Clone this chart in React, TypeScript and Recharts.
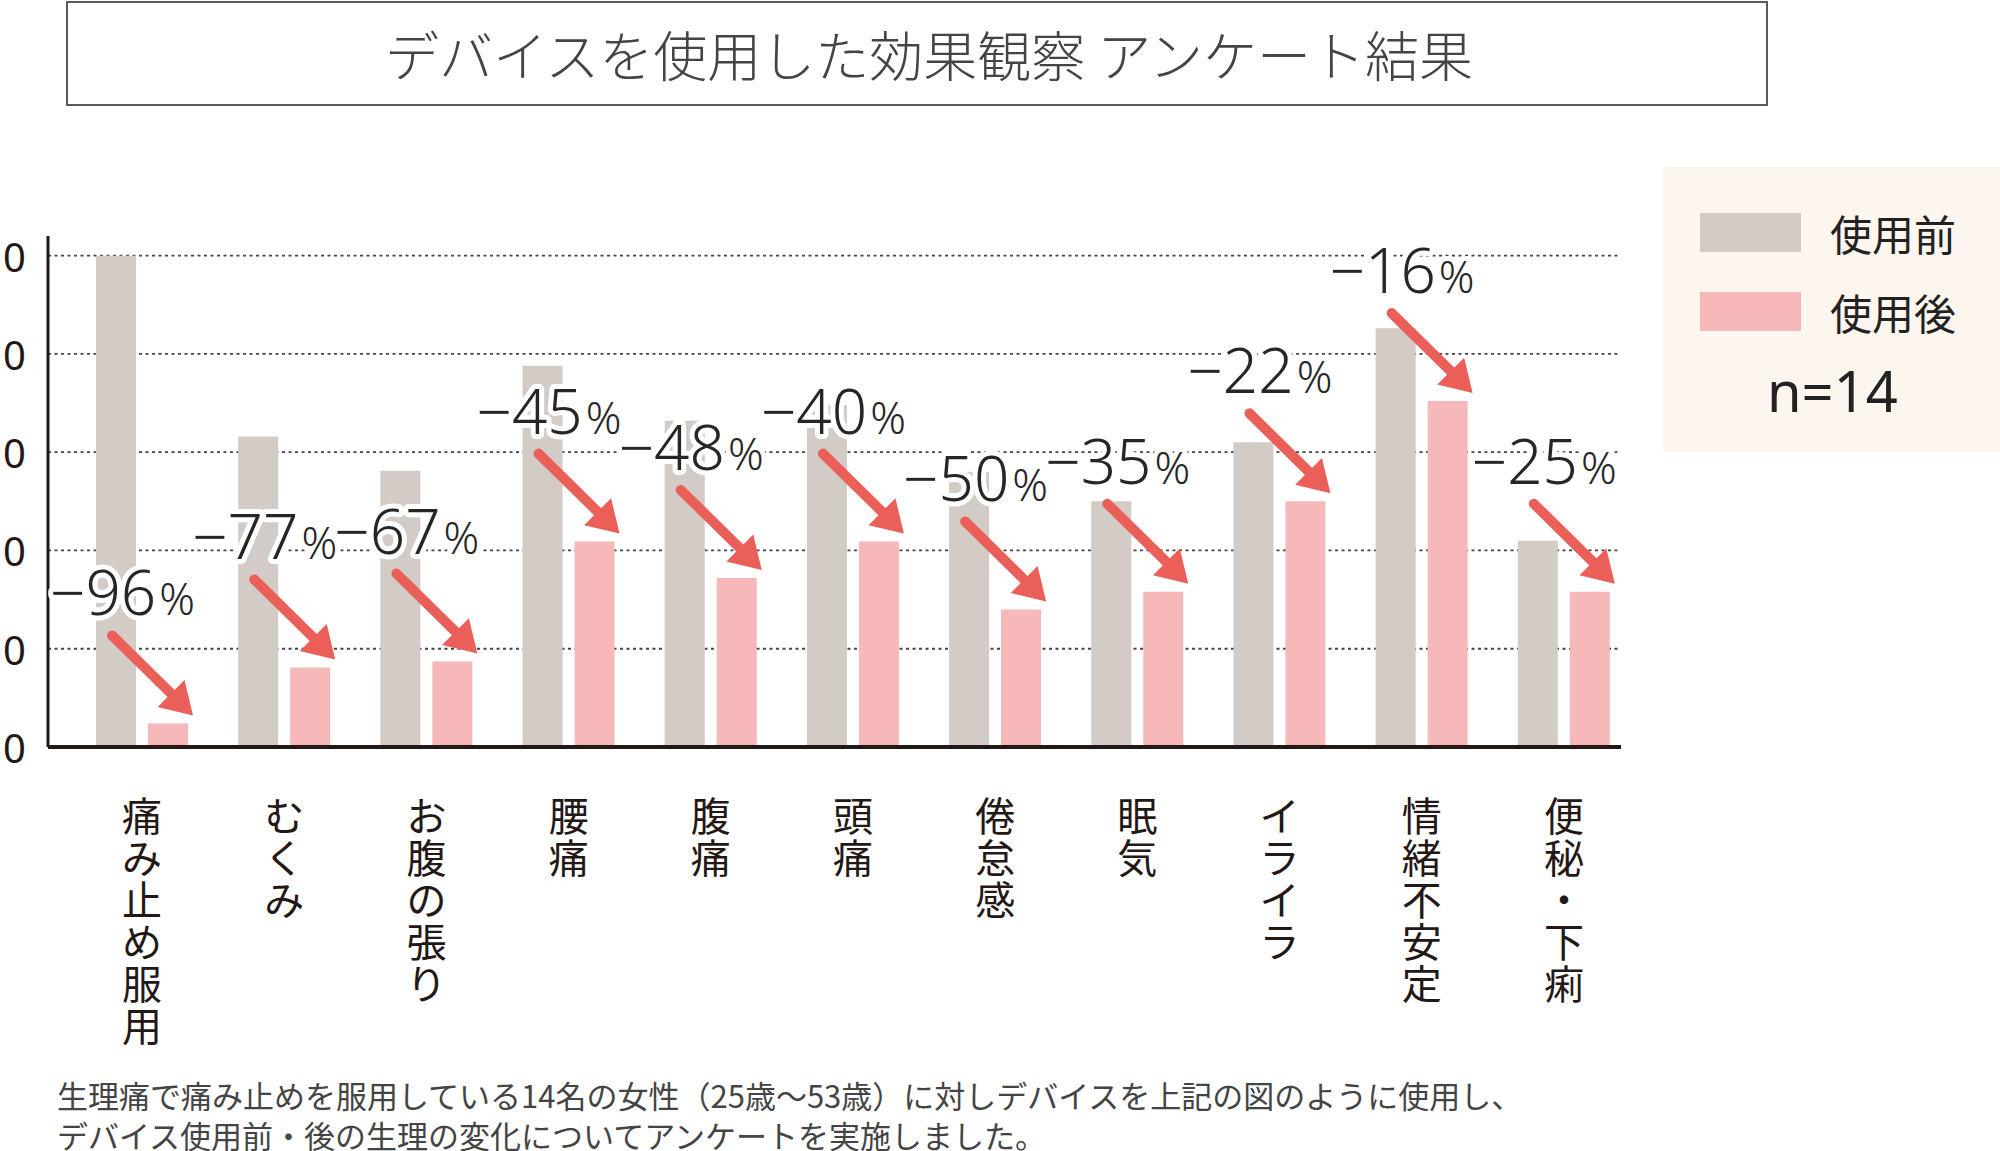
import React from 'react';
import { BarChart, Bar, XAxis, YAxis, CartesianGrid, LabelList, Legend } from 'recharts';

const categories = ['痛み止め服用', 'むくみ', 'お腹の張り', '腰痛', '腹痛', '頭痛', '倦怠感', '眠気', 'イライラ', '情緒不安定', '便秘・下痢'];
const beforeValues = [50, 31.6, 28.1, 38.8, 33.2, 34.8, 28, 25, 31, 42.6, 21];
const afterValues = [2.4, 8.1, 8.7, 20.9, 17.2, 20.9, 14, 15.8, 25, 35.2, 15.8];
const changeLabels = [-96, -77, -67, -45, -48, -40, -50, -35, -22, -16, -25];
const yTicks = [0, 10, 20, 30, 40, 50];
const seriesNames = ['使用前', '使用後'];
const sampleLabel = 'n=14';
const titleText = 'デバイスを使用した効果観察 アンケート結果';
const noteLines = [
  '生理痛で痛み止めを服用している14名の女性（25歳〜53歳）に対しデバイスを上記の図のように使用し、',
  'デバイス使用前・後の生理の変化についてアンケートを実施しました。',
];

const data = categories.map((c, i) => ({
  category: c,
  before: beforeValues[i],
  after: afterValues[i],
  change: changeLabels[i],
}));

const JP = "'Noto Sans CJK JP', 'Noto Sans', sans-serif";
const NUM = "'Noto Sans', 'Noto Sans CJK JP', sans-serif";
const GRAY = '#D3CBC5';
const PINK = '#F6B8B8';
const ARROW = '#EA5F58';
const DARK = '#231815';
const PLOT_TOP = 236;

const CategoryTick = (props: any) => {
  const { x, y, payload } = props;
  const chars = Array.from(String(payload.value));
  return (
    <text x={x} y={y + 84} textAnchor="middle" fontSize={40} fill={DARK} fontFamily={JP}>
      {chars.map((c, i) => (
        <tspan key={i} x={x} dy={i === 0 ? 0 : 42}>
          {c}
        </tspan>
      ))}
    </text>
  );
};

const ValueTick = (props: any) => {
  const { x, y, payload } = props;
  return (
    <text x={x - 17} y={y + 16} textAnchor="end" fontSize={40} fill={DARK} letterSpacing={5} fontFamily={NUM}>
      {payload.value}
    </text>
  );
};

const renderGridLine = (p: any) => {
  if (Math.abs(p.y1 - PLOT_TOP) < 2) return <g key={p.key} />;
  return (
    <line
      key={p.key}
      x1={p.x1}
      y1={p.y1}
      x2={p.x2}
      y2={p.y2}
      stroke="#444"
      strokeWidth={1.8}
      strokeDasharray="3 3.5"
    />
  );
};

const renderChange = (props: any) => {
  const vb = props.viewBox ?? props;
  const { x, y, width } = vb;
  const v = props.value;
  if (x == null || y == null) return null;
  const tipX = x + width + 5;
  const tipY = y - 8;
  const tailX = tipX - 81;
  const tailY = tipY - 80;
  const u = Math.SQRT1_2;
  const L = 31;
  const H = 19;
  const bx = tipX - L * u;
  const by = tipY - L * u;
  const nx = -u;
  const ny = u;
  const p1 = `${bx + H * nx},${by + H * ny}`;
  const p2 = `${bx - H * nx},${by - H * ny}`;
  return (
    <g>
      <line x1={tailX} y1={tailY} x2={bx + 2} y2={by + 2} stroke={ARROW} strokeWidth={10} strokeLinecap="round" />
      <polygon points={`${tipX},${tipY} ${p1} ${p2}`} fill={ARROW} />
      <text
        x={tailX - 62}
        y={tailY - 20}
        fill="#262626"
        stroke="#fff"
        strokeWidth={10}
        strokeLinejoin="round"
        paintOrder="stroke"
        fontFamily={NUM}
        fontWeight={300}
      >
        <tspan fontSize={62}>{'\u2212' + Math.abs(v)}</tspan>
        <tspan fontSize={44} dx={3}>%</tspan>
      </text>
    </g>
  );
};

const renderLegend = (props: any) => {
  const items = props.payload || [];
  return (
    <div style={{ width: 337, height: 285, background: '#FDF6EE', position: 'relative' }}>
      {items.map((it: any, i: number) => (
        <div
          key={i}
          style={{ position: 'absolute', left: 37, top: 46 + i * 79, height: 39, display: 'flex', alignItems: 'center' }}
        >
          <div style={{ width: 101, height: 39, background: it.color }} />
          <span style={{ marginLeft: 29, fontSize: 42, lineHeight: '42px', color: '#222', fontFamily: JP }}>{it.value}</span>
        </div>
      ))}
      <div
        style={{
          position: 'absolute',
          left: 104,
          top: 195,
          fontSize: 56,
          lineHeight: '56px',
          color: '#222',
          fontFamily: NUM,
          whiteSpace: 'nowrap',
        }}
      >
        {sampleLabel}
      </div>
    </div>
  );
};

export default function App() {
  return (
    <div
      style={{
        position: 'absolute',
        left: 0,
        top: 0,
        width: 2000,
        height: 1151,
        overflow: 'hidden',
        background: '#fff',
      }}
    >
      <div
        style={{
          position: 'absolute',
          left: 66,
          top: 1,
          width: 1702,
          height: 105,
          boxSizing: 'border-box',
          border: '2px solid #5b5b5b',
          display: 'flex',
          alignItems: 'center',
          justifyContent: 'center',
          paddingLeft: 24,
          fontSize: 54,
          fontWeight: 300,
          color: '#444',
          fontFamily: JP,
          whiteSpace: 'nowrap',
        }}
      >
        {titleText}
      </div>
      <div style={{ position: 'absolute', left: 0, top: 0 }}>
        <BarChart
          width={2000}
          height={1151}
          data={data}
          margin={{ top: PLOT_TOP, right: 379, bottom: 104, left: 0 }}
          barGap={12}
        >
          <CartesianGrid vertical={false} horizontal={renderGridLine} />
          <XAxis
            dataKey="category"
            height={300}
            axisLine={{ stroke: DARK, strokeWidth: 4 }}
            tickLine={false}
            tickSize={0}
            tickMargin={0}
            padding={{ left: 23, right: -14 }}
            tick={<CategoryTick />}
            interval={0}
          />
          <YAxis
            width={48}
            domain={[0, 52]}
            ticks={yTicks}
            axisLine={{ stroke: DARK, strokeWidth: 3 }}
            tickLine={false}
            tickSize={0}
            tickMargin={0}
            tick={<ValueTick />}
          />
          <Legend
            layout="horizontal"
            verticalAlign="middle"
            align="center"
            wrapperStyle={{ left: 1663, top: 167, width: 337, height: 285 }}
            content={renderLegend}
          />
          <Bar dataKey="before" name={seriesNames[0]} fill={GRAY} barSize={40} isAnimationActive={false} />
          <Bar dataKey="after" name={seriesNames[1]} fill={PINK} barSize={40} isAnimationActive={false}>
            <LabelList dataKey="change" content={renderChange} />
          </Bar>
        </BarChart>
      </div>
      <div
        style={{
          position: 'absolute',
          left: 57,
          top: 1075,
          fontSize: 31,
          lineHeight: '40px',
          color: '#444',
          fontFamily: JP,
          whiteSpace: 'nowrap',
        }}
      >
        {noteLines.map((l, i) => (
          <div key={i}>{l}</div>
        ))}
      </div>
    </div>
  );
}
